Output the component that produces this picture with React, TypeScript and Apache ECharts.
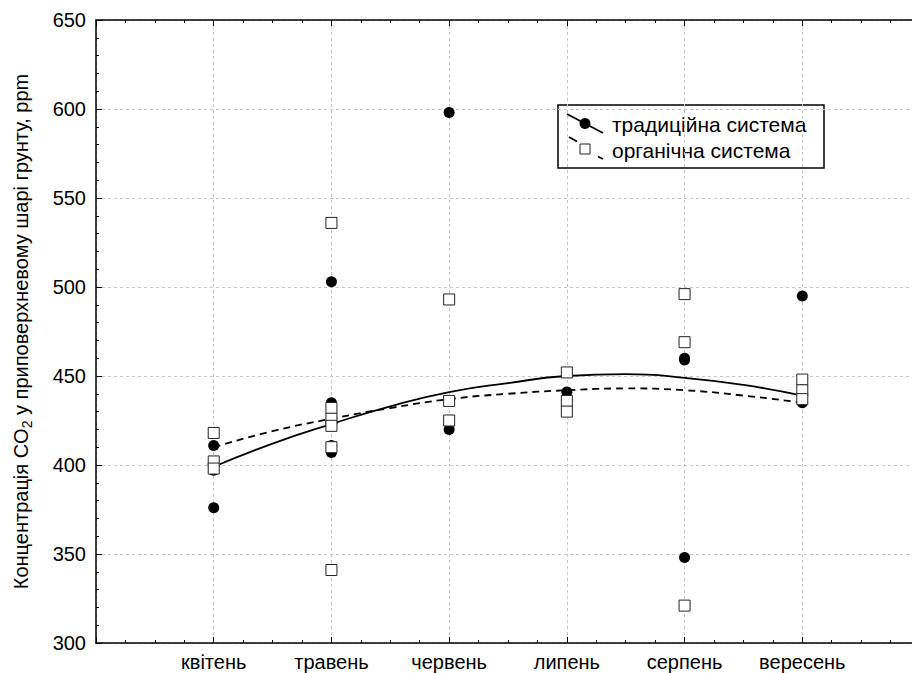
import React, { useEffect, useRef } from "react";
import * as echarts from "echarts";

const categories = ["квітень", "травень", "червень", "липень", "серпень", "вересень"];

// Traditional system (filled circles), values per month (month index 1..6)
const traditionalByMonth: number[][] = [
  [411, 397, 376],
  [503, 435, 411, 407],
  [598, 420],
  [441],
  [460, 459, 348],
  [495, 435],
];

// Organic system (open squares)
const organicByMonth: number[][] = [
  [418, 402, 398],
  [536, 432, 426, 422, 410, 341],
  [493, 436, 425],
  [452, 436, 430],
  [496, 469, 321],
  [448, 442, 437],
];

// Fitted trend curves
const trendX = [1, 1.5, 2, 2.5, 3, 3.5, 4, 4.5, 5, 5.5, 6];
const traditionalTrend = [399, 412, 423, 433, 441, 446, 450, 451, 449, 445, 439];
const organicTrend = [410, 419, 426, 432, 437, 440, 442, 443, 442, 439, 435];

const yTicks = { min: 300, max: 650, interval: 50 };

const FONT = "'Liberation Sans', Arial, sans-serif";

export default function App() {
  const ref = useRef<HTMLDivElement>(null);

  useEffect(() => {
    if (!ref.current) return;
    const chart = echarts.init(ref.current, undefined, { renderer: "svg" });

    const toPoints = (groups: number[][]) =>
      groups.flatMap((vals, i) => vals.map((v) => [i + 1, v]));

    const axisLine = { show: true, onZero: false, lineStyle: { color: "#000", width: 1.5 } };
    const axisTick = { show: true, inside: true, length: 6, lineStyle: { color: "#000", width: 1 } };
    const gridLine = { show: true, lineStyle: { color: "#c4c4c4", width: 1, type: [3, 3] } };

    const option: any = {
      animation: false,
      backgroundColor: "#fff",
      grid: { left: 96, top: 20, right: 10, bottom: 30 },
      xAxis: [
        {
          type: "value",
          min: 0,
          max: 7,
          interval: 1,
          position: "bottom",
          axisLine,
          axisTick,
          minorTick: { show: true, splitNumber: 4, length: 3, lineStyle: { color: "#000" } },
          splitLine: gridLine,
          minorSplitLine: { show: false },
          axisLabel: {
            formatter: (v: number) => categories[v - 1] ?? "",
            fontFamily: FONT,
            fontSize: 20,
            color: "#000",
            margin: 9,
          },
        },
        {
          type: "value",
          min: 0,
          max: 7,
          interval: 1,
          position: "top",
          axisLine,
          axisTick,
          minorTick: { show: true, splitNumber: 4, length: 3, lineStyle: { color: "#000" } },
          splitLine: { show: false },
          axisLabel: { show: false },
        },
      ],
      yAxis: [
        {
          type: "value",
          min: yTicks.min,
          max: yTicks.max,
          interval: yTicks.interval,
          position: "left",
          axisLine,
          axisTick,
          minorTick: { show: true, splitNumber: 5, length: 3, lineStyle: { color: "#000" } },
          splitLine: gridLine,
          axisLabel: { fontFamily: FONT, fontSize: 20, color: "#000", margin: 10 },
          name: "{a|Концентрація CO}{s|2}{a| у приповерхневому шарі грунту, ppm}",
          nameLocation: "middle",
          nameRotate: 90,
          nameGap: 62,
          nameTextStyle: {
            rich: {
              a: { fontFamily: FONT, fontSize: 20, color: "#000", lineHeight: 26 },
              s: { fontFamily: FONT, fontSize: 14, color: "#000", lineHeight: 14, verticalAlign: "bottom" },
            },
          },
        },
      ],
      series: [
        {
          name: "традиційна система (тренд)",
          type: "line",
          smooth: true,
          showSymbol: false,
          data: trendX.map((x, i) => [x, traditionalTrend[i]]),
          lineStyle: { color: "#000", width: 1.8 },
          z: 2,
        },
        {
          name: "органічна система (тренд)",
          type: "line",
          smooth: true,
          showSymbol: false,
          data: trendX.map((x, i) => [x, organicTrend[i]]),
          lineStyle: { color: "#000", width: 1.8, type: [7, 5] },
          z: 2,
        },
        {
          name: "традиційна система",
          type: "scatter",
          symbol: "circle",
          symbolSize: 11,
          data: toPoints(traditionalByMonth),
          itemStyle: { color: "#000", opacity: 1 },
          z: 3,
        },
        {
          name: "органічна система",
          type: "scatter",
          symbol: "rect",
          symbolSize: 11,
          data: toPoints(organicByMonth),
          itemStyle: { color: "#fff", borderColor: "#222", borderWidth: 1, opacity: 1 },
          z: 4,
        },
      ],
      graphic: [
        {
          type: "group",
          z: 100,
          children: [
            {
              type: "rect",
              shape: { x: 558, y: 105, width: 266, height: 63 },
              style: { fill: "#fff", stroke: "#000", lineWidth: 1.5 },
            },
            {
              type: "line",
              shape: { x1: 567, y1: 114, x2: 603, y2: 133 },
              style: { stroke: "#000", lineWidth: 1.8 },
            },
            {
              type: "circle",
              shape: { cx: 585, cy: 123.5, r: 5.5 },
              style: { fill: "#000" },
            },
            {
              type: "text",
              style: {
                x: 612,
                y: 124,
                text: "традиційна система",
                fontFamily: FONT,
                fontSize: 21,
                fill: "#000",
                verticalAlign: "middle",
              },
            },
            {
              type: "line",
              shape: { x1: 569, y1: 137, x2: 577, y2: 141.5 },
              style: { stroke: "#000", lineWidth: 1.8 },
            },
            {
              type: "line",
              shape: { x1: 598, y1: 156.5, x2: 603, y2: 159 },
              style: { stroke: "#000", lineWidth: 1.8 },
            },
            {
              type: "rect",
              shape: { x: 580, y: 144, width: 10, height: 10 },
              style: { fill: "#fff", stroke: "#222", lineWidth: 1 },
            },
            {
              type: "text",
              style: {
                x: 612,
                y: 150,
                text: "органічна система",
                fontFamily: FONT,
                fontSize: 21,
                fill: "#000",
                verticalAlign: "middle",
              },
            },
          ],
        },
      ],
    };

    chart.setOption(option);
    return () => chart.dispose();
  }, []);

  return (
    <div
      ref={ref}
      style={{ position: "fixed", left: 0, top: 0, width: 930, height: 673, background: "#fff" }}
    />
  );
}
